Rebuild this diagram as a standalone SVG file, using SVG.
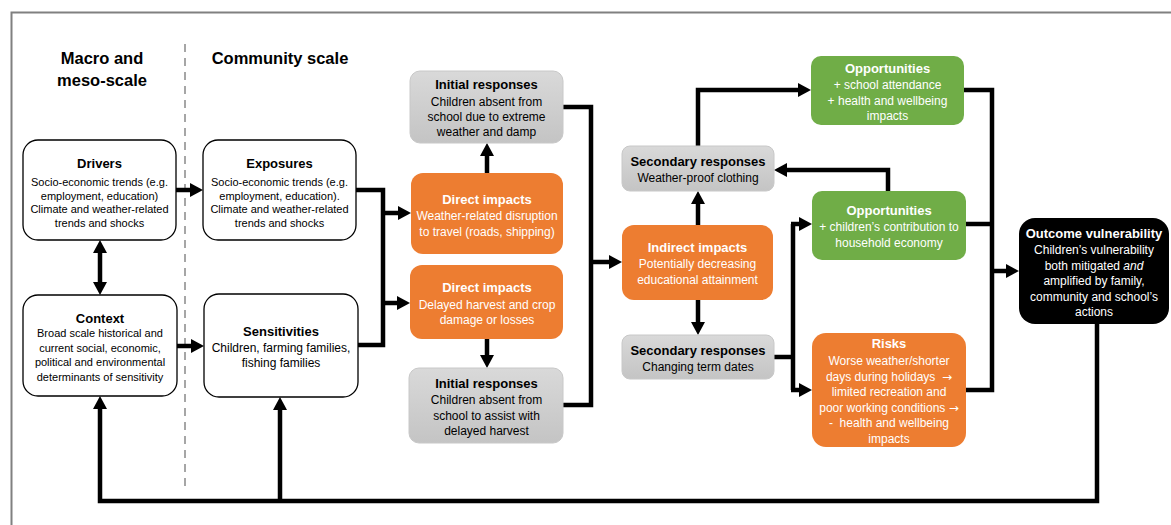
<svg xmlns="http://www.w3.org/2000/svg" width="1171" height="525" viewBox="0 0 1171 525">
<defs>
<linearGradient id="grayG" x1="0" y1="0" x2="0" y2="1">
<stop offset="0" stop-color="#d9d9d9"/>
<stop offset="1" stop-color="#c4c4c4"/>
</linearGradient>
<marker id="ah" markerUnits="userSpaceOnUse" markerWidth="13" markerHeight="14" refX="0" refY="7" orient="auto-start-reverse" overflow="visible">
<path d="M0,0 L13,7 L0,14 z" fill="#000"/>
</marker>
<style>
text{font-family:"Liberation Sans",Arial,sans-serif;text-anchor:middle;}
.hd{font-size:16.5px;font-weight:bold;fill:#000;}
.t{font-size:13px;font-weight:bold;}
.b11{font-size:11px;}
.b12{font-size:12px;}
.pre{white-space:pre;}
.arw{font-family:"DejaVu Sans",sans-serif;font-size:12px;}
.wb rect{fill:#fff;stroke:#000;stroke-width:1.3;}
.wb text{fill:#000;}
.gb rect{fill:url(#grayG);stroke:#c8c8c8;stroke-width:1;}
.gb text{fill:#000;}
.ob rect{fill:#ed7d31;}
.ob text{fill:#fff;}
.gr rect{fill:#70ad47;}
.gr text{fill:#fff;}
.kb rect{fill:#000;}
.kb text{fill:#fff;}
.c path{fill:none;stroke:#000;stroke-width:4.5;stroke-linejoin:miter;}
.ar{marker-end:url(#ah);}
</style>
</defs>
<rect width="1171" height="525" fill="#fff"/>
<path d="M11.5,525 V12.5 H1171" fill="none" stroke="#808080" stroke-width="2"/>
<line x1="185" y1="44" x2="185" y2="492" stroke="#a6a6a6" stroke-width="2" stroke-dasharray="8,6"/>
<g id="headings">
<text class="hd" x="102" y="64">Macro and</text>
<text class="hd" x="102" y="86">meso-scale</text>
<text class="hd" x="280" y="64">Community scale</text>
</g>
<g id="connectors" class="c">
<path class="ar" d="M176,190 H190"/>
<path class="ar" d="M177,346 H191"/>
<path d="M100,253 V282" marker-start="url(#ah)" marker-end="url(#ah)"/>
<path d="M356,190 H383 V345 H358"/>
<path class="ar" d="M381,213 H398"/>
<path class="ar" d="M381,303 H397"/>
<path class="ar" d="M487,173 V156"/>
<path class="ar" d="M487,339 V355"/>
<path d="M563,107 H591 V405 H563"/>
<path class="ar" d="M589,262 H609"/>
<path class="ar" d="M698,225 V204"/>
<path class="ar" d="M698,300 V322"/>
<path class="ar" d="M698,146 V90 H798"/>
<path class="ar" d="M888,191 V170 H787"/>
<path d="M774,357 H793"/>
<path d="M793,224 V390"/>
<path class="ar" d="M791,224 H799"/>
<path class="ar" d="M791,390 H799"/>
<path d="M964,90 H992 V390 H966"/>
<path d="M966,224 H992"/>
<path class="ar" d="M990,271 H1006"/>
<path class="ar" d="M1097,324 V501 H100 V409"/>
<path class="ar" d="M280,503 V410"/>
</g>
<g id="drivers" class="wb">
<rect x="23" y="140" width="153" height="100" rx="15"/>
<text class="t" x="99.5" y="168">Drivers</text>
<text class="b11" x="99.5" y="186">Socio-economic trends (e.g.</text>
<text class="b11" x="99.5" y="199.5">employment, education)</text>
<text class="b11" x="99.5" y="213">Climate and weather-related</text>
<text class="b11" x="99.5" y="226.5">trends and shocks</text>
</g>
<g id="exposures" class="wb">
<rect x="203" y="140" width="153" height="100" rx="15"/>
<text class="t" x="279.5" y="168">Exposures</text>
<text class="b11" x="279.5" y="186">Socio-economic trends (e.g.</text>
<text class="b11" x="279.5" y="199.5">employment, education).</text>
<text class="b11" x="279.5" y="213">Climate and weather-related</text>
<text class="b11" x="279.5" y="226.5">trends and shocks</text>
</g>
<g id="context" class="wb">
<rect x="23" y="295" width="154" height="101" rx="15"/>
<text class="t" x="100" y="322.5">Context</text>
<text class="b11" x="100" y="336.7">Broad scale historical and</text>
<text class="b11" x="100" y="351.5">current social, economic,</text>
<text class="b11" x="100" y="366">political and environmental</text>
<text class="b11" x="100" y="380.5">determinants of sensitivity</text>
</g>
<g id="sensitivities" class="wb">
<rect x="204" y="294" width="154" height="103" rx="15"/>
<text class="t" x="281" y="336">Sensitivities</text>
<text class="b12" x="281" y="351.5">Children, farming families,</text>
<text class="b12" x="281" y="366.5">fishing families</text>
</g>
<g id="initial1" class="gb">
<rect x="410" y="71" width="153" height="72" rx="10"/>
<text class="t" x="486.5" y="89">Initial responses</text>
<text class="b12" x="486.5" y="105.5">Children absent from</text>
<text class="b12" x="486.5" y="120.5">school due to extreme</text>
<text class="b12" x="486.5" y="136">weather and damp</text>
</g>
<g id="direct1" class="ob">
<rect x="411" y="173" width="152" height="81" rx="12"/>
<text class="t" x="487" y="203.5">Direct impacts</text>
<text class="b12" x="487" y="219.5">Weather-related disruption</text>
<text class="b12" x="487" y="236">to travel (roads, shipping)</text>
</g>
<g id="direct2" class="ob">
<rect x="410" y="265" width="153" height="74" rx="12"/>
<text class="t" x="487" y="292">Direct impacts</text>
<text class="b12" x="487" y="308.5">Delayed harvest and crop</text>
<text class="b12" x="487" y="324">damage or losses</text>
</g>
<g id="initial2" class="gb">
<rect x="409" y="368" width="154" height="75" rx="10"/>
<text class="t" x="486.5" y="388">Initial responses</text>
<text class="b12" x="486.5" y="404">Children absent from</text>
<text class="b12" x="486.5" y="419.5">school to assist with</text>
<text class="b12" x="486.5" y="435">delayed harvest</text>
</g>
<g id="secondary1" class="gb">
<rect x="622" y="146" width="152" height="45" rx="8"/>
<text class="t" x="698" y="165.5">Secondary responses</text>
<text class="b12" x="698" y="182">Weather-proof clothing</text>
</g>
<g id="indirect" class="ob">
<rect x="622" y="225" width="151" height="75" rx="12"/>
<text class="t" x="697.5" y="252">Indirect impacts</text>
<text class="b12" x="697.5" y="268">Potentially decreasing</text>
<text class="b12" x="697.5" y="284">educational attainment</text>
</g>
<g id="secondary2" class="gb">
<rect x="622" y="335" width="152" height="44" rx="8"/>
<text class="t" x="698" y="354.5">Secondary responses</text>
<text class="b12" x="698" y="371">Changing term dates</text>
</g>
<g id="opportunities1" class="gr">
<rect x="811" y="56" width="153" height="69" rx="10"/>
<text class="t" x="887.5" y="73">Opportunities</text>
<text class="b12" x="887.5" y="88.5">+ school attendance</text>
<text class="b12" x="887.5" y="104.5">+ health and wellbeing</text>
<text class="b12" x="887.5" y="120">impacts</text>
</g>
<g id="opportunities2" class="gr">
<rect x="812" y="191" width="154" height="69" rx="10"/>
<text class="t" x="889" y="214.5">Opportunities</text>
<text class="b12" x="889" y="231">+ children’s contribution to</text>
<text class="b12" x="889" y="247">household economy</text>
</g>
<g id="risks" class="ob">
<rect x="812" y="333" width="154" height="114" rx="14"/>
<text class="t" x="889" y="348">Risks</text>
<text class="b12" x="889" y="365">Worse weather/shorter</text>
<text class="b12 pre" x="889" y="380.5">days during holidays  <tspan class="arw">→</tspan></text>
<text class="b12" x="889" y="396">limited recreation and</text>
<text class="b12" x="889" y="412">poor working conditions <tspan class="arw">→</tspan></text>
<text class="b12 pre" x="889" y="427">-  health and wellbeing</text>
<text class="b12" x="889" y="443">impacts</text>
</g>
<g id="outcome" class="kb">
<rect x="1019" y="218" width="150" height="106" rx="16"/>
<text class="t" x="1094" y="238">Outcome vulnerability</text>
<text class="b12" x="1094" y="254">Children’s vulnerability</text>
<text class="b12" x="1094" y="269.5">both mitigated <tspan font-style="italic">and</tspan></text>
<text class="b12" x="1094" y="285">amplified by family,</text>
<text class="b12" x="1094" y="300.5">community and school’s</text>
<text class="b12" x="1094" y="316">actions</text>
</g>
</svg>
